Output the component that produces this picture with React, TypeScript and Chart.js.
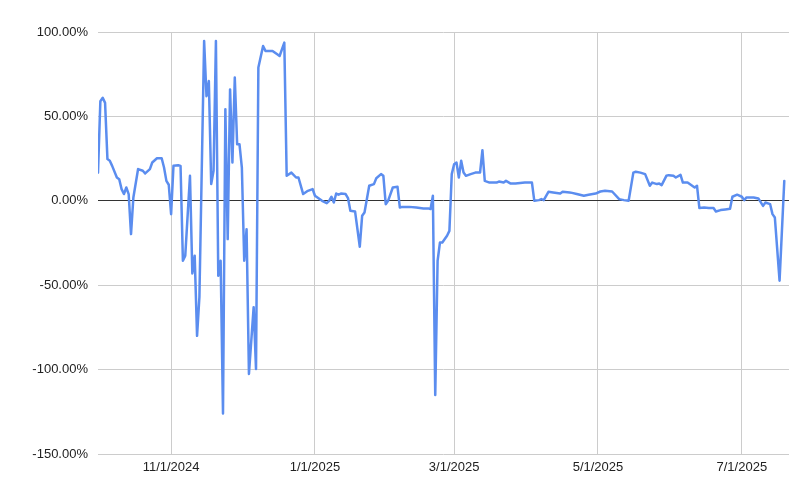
import React, { useEffect, useRef } from "react";
import { Chart, registerables } from "chart.js";

Chart.register(...registerables);

// ---- data ----
const dates: string[] = [
  "2024-10-01", "2024-10-02", "2024-10-03", "2024-10-04", "2024-10-05", "2024-10-06", "2024-10-07", "2024-10-09",
  "2024-10-10", "2024-10-11", "2024-10-12", "2024-10-13", "2024-10-14", "2024-10-15", "2024-10-16", "2024-10-18",
  "2024-10-20", "2024-10-21", "2024-10-23", "2024-10-24", "2024-10-26", "2024-10-28", "2024-10-29", "2024-10-30",
  "2024-10-31", "2024-11-01", "2024-11-02", "2024-11-04", "2024-11-05", "2024-11-06", "2024-11-07", "2024-11-09",
  "2024-11-10", "2024-11-11", "2024-11-12", "2024-11-13", "2024-11-15", "2024-11-16", "2024-11-17", "2024-11-18",
  "2024-11-19", "2024-11-20", "2024-11-21", "2024-11-22", "2024-11-23", "2024-11-24", "2024-11-25", "2024-11-26",
  "2024-11-27", "2024-11-28", "2024-11-29", "2024-11-30", "2024-12-01", "2024-12-02", "2024-12-03", "2024-12-04",
  "2024-12-06", "2024-12-07", "2024-12-08", "2024-12-10", "2024-12-11", "2024-12-14", "2024-12-16", "2024-12-17",
  "2024-12-19", "2024-12-20", "2024-12-22", "2024-12-24", "2024-12-25", "2024-12-27", "2024-12-29", "2024-12-31",
  "2025-01-01", "2025-01-04", "2025-01-06", "2025-01-07", "2025-01-08", "2025-01-09", "2025-01-10", "2025-01-11",
  "2025-01-12", "2025-01-14", "2025-01-15", "2025-01-16", "2025-01-18", "2025-01-20", "2025-01-21", "2025-01-22",
  "2025-01-24", "2025-01-26", "2025-01-27", "2025-01-29", "2025-01-30", "2025-01-31", "2025-02-01", "2025-02-03",
  "2025-02-05", "2025-02-06", "2025-02-07", "2025-02-10", "2025-02-13", "2025-02-16", "2025-02-18", "2025-02-19",
  "2025-02-20", "2025-02-21", "2025-02-22", "2025-02-23", "2025-02-24", "2025-02-26", "2025-02-27", "2025-02-28",
  "2025-03-01", "2025-03-02", "2025-03-03", "2025-03-04", "2025-03-05", "2025-03-06", "2025-03-08", "2025-03-10",
  "2025-03-12", "2025-03-13", "2025-03-14", "2025-03-16", "2025-03-19", "2025-03-20", "2025-03-22", "2025-03-23",
  "2025-03-25", "2025-03-27", "2025-03-31", "2025-04-03", "2025-04-04", "2025-04-06", "2025-04-07", "2025-04-08",
  "2025-04-10", "2025-04-12", "2025-04-15", "2025-04-16", "2025-04-19", "2025-04-20", "2025-04-22", "2025-04-25",
  "2025-04-27", "2025-04-30", "2025-05-02", "2025-05-04", "2025-05-07", "2025-05-10", "2025-05-12", "2025-05-14",
  "2025-05-16", "2025-05-17", "2025-05-19", "2025-05-21", "2025-05-23", "2025-05-24", "2025-05-26", "2025-05-27",
  "2025-05-28", "2025-05-30", "2025-05-31", "2025-06-02", "2025-06-03", "2025-06-05", "2025-06-06", "2025-06-08",
  "2025-06-11", "2025-06-12", "2025-06-13", "2025-06-15", "2025-06-17", "2025-06-19", "2025-06-20", "2025-06-22",
  "2025-06-24", "2025-06-26", "2025-06-27", "2025-06-29", "2025-07-01", "2025-07-02", "2025-07-03", "2025-07-06",
  "2025-07-08", "2025-07-10", "2025-07-11", "2025-07-13", "2025-07-14", "2025-07-15", "2025-07-17", "2025-07-19",
];

const changePct: number[] = [
  16.7, 59, 61, 58, 24.7, 23.7, 20.7, 13.8,
  12.8, 6.9, 4, 7.9, 4, -19.7, 2, 18.8,
  17.8, 16.2, 18.8, 22.7, 25.2, 25.2, 19.7, 11.8,
  9.5, -7.9, 20.7, 21.1, 20.7, -35.5, -32.5, 14.8,
  -43, -32.5, -80, -57, 94.7, 62, 71, 9.9,
  17.8, 94.7, -44.4, -35.5, -126, 54.3, -22.7, 66,
  22.7, 73, 33.5, 33.5, 19.7, -35.5, -16.8, -102.6,
  -63, -99.6, 79, 91.7, 88.8, 88.8, 86.8, 85.8,
  93.7, 14.8, 16.7, 13.8, 13.8, 4, 5.9, 6.9,
  3, 0, -1.4, 0, 2.4, -1, 4.3, 3.6,
  4.3, 4, 1.6, -5.9, -6.3, -27.2, -8.9, -6.9,
  8.9, 9.9, 13.4, 15.8, 14.8, -2, 0, 7.9,
  8.3, -4, -3.6, -3.6, -4, -4.5, -4.5, -4.9,
  3, -115, -35.5, -24.7, -24.7, -20.7, -17.8, 15.8,
  21.7, 22.7, 13.8, 23.7, 16.7, 14.8, 15.8, 16.7,
  16.7, 30, 11.8, 10.8, 10.8, 11.4, 10.8, 11.8,
  10.2, 10.2, 10.8, 10.8, 0, 0.4, 1, 0.4,
  5.3, 4.9, 4.3, 5.3, 4.9, 4.7, 4, 3,
  3.6, 4.3, 5.5, 5.9, 5.5, 1, 0.4, 0,
  16.7, 17.2, 16.7, 15.8, 8.9, 10.8, 9.9, 10.2,
  9.3, 14.8, 15.2, 14.8, 13.8, 15.4, 10.8, 10.8,
  7.9, 8.9, -4.3, -4, -4.3, -4.3, -6.3, -5.5,
  -5.1, -4.7, 2.4, 3.6, 2.4, 0.4, 2, 2,
  1.4, -3, -1, -2, -7.9, -9.9, -47.3, 11.8,
];

const xTickDates: string[] = ["2024-11-01", "2025-01-01", "2025-03-01", "2025-05-01", "2025-07-01"];
const xRange: string[] = ["2024-10-01", "2025-07-21"];
const yTicks: number[] = [-150, -100, -50, 0, 50, 100];

// ---- helpers ----
const toDay = (s: string) => {
  const [y, m, d] = s.split("-").map(Number);
  return Date.UTC(y, m - 1, d) / 86400000;
};
const fmtDay = (v: number) => {
  const dt = new Date(Math.round(v) * 86400000);
  return `${dt.getUTCMonth() + 1}/${dt.getUTCDate()}/${dt.getUTCFullYear()}`;
};

const FONT = { family: "'Liberation Sans', Arial, sans-serif", size: 13 };
const TEXT = "#222222";
const GRID = "#cccccc";

export default function App() {
  const ref = useRef<HTMLCanvasElement | null>(null);

  useEffect(() => {
    if (!ref.current) return;
    const points = dates.map((d, i) => ({ x: toDay(d), y: changePct[i] }));
    const chart = new Chart(ref.current, {
      type: "line",
      data: {
        datasets: [
          {
            data: points,
            borderColor: "#5b8def",
            borderWidth: 2.5,
            borderJoinStyle: "round",
            borderCapStyle: "round",
            pointRadius: 0,
            tension: 0,
            fill: false,
          },
        ],
      },
      options: {
        animation: false,
        responsive: false,
        maintainAspectRatio: false,
        layout: { padding: { top: 32, right: 21, bottom: 0, left: 0 } },
        plugins: { legend: { display: false }, tooltip: { enabled: false } },
        scales: {
          x: {
            type: "linear",
            min: toDay(xRange[0]),
            max: toDay(xRange[1]),
            afterBuildTicks: (s: any) => {
              s.ticks = xTickDates.map((d) => ({ value: toDay(d) }));
            },
            afterFit: (s: any) => {
              s.height = 45;
            },
            ticks: {
              callback: (v: any) => fmtDay(Number(v)),
              font: FONT,
              color: TEXT,
              padding: 6,
              maxRotation: 0,
              autoSkip: false,
            },
            grid: { color: GRID, drawTicks: false, lineWidth: 1 },
            border: { display: false },
          },
          y: {
            min: -150,
            max: 100,
            afterBuildTicks: (s: any) => {
              s.ticks = yTicks.map((v) => ({ value: v }));
            },
            afterFit: (s: any) => {
              s.width = 98;
            },
            ticks: {
              callback: (v: any) => `${Number(v).toFixed(2)}%`,
              font: FONT,
              color: TEXT,
              padding: 10,
            },
            grid: {
              color: (ctx: any) => (ctx.tick && ctx.tick.value === 0 ? "#333333" : GRID),
              drawTicks: false,
              lineWidth: 1,
            },
            border: { display: false },
          },
        },
      },
    });
    return () => chart.destroy();
  }, []);

  return (
    <div style={{ position: "fixed", left: 0, top: 0, width: 810, height: 499, background: "#fff" }}>
      <canvas ref={ref} width={810} height={499} style={{ width: 810, height: 499, display: "block" }} />
    </div>
  );
}
